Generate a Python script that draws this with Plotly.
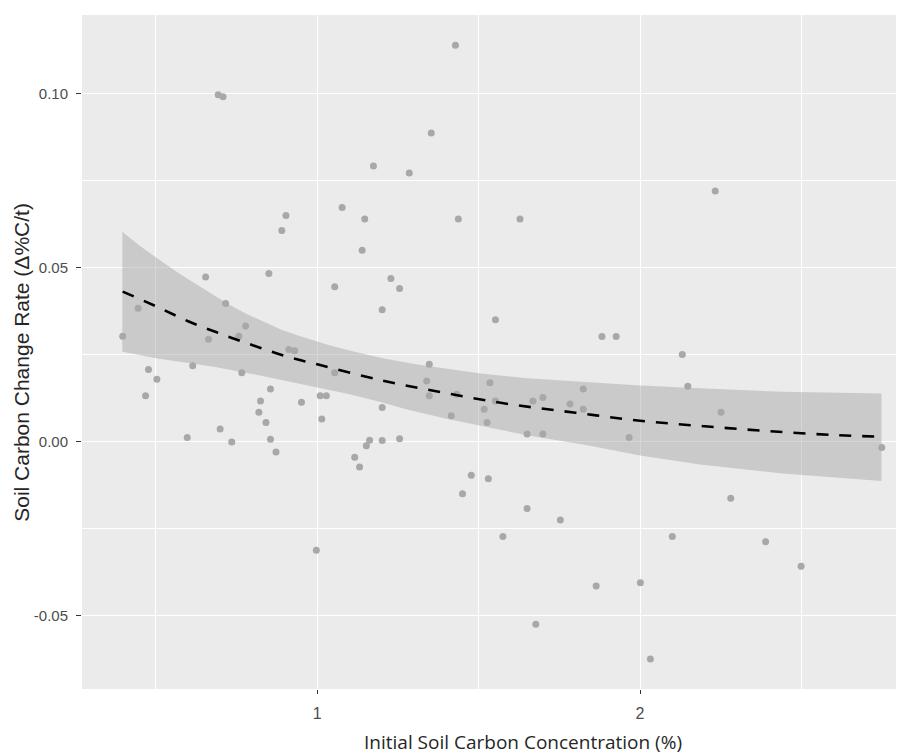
import plotly.graph_objects as go

# Observed data points (initial soil C %, change rate)
x_obs = [0.397, 0.445, 0.477, 0.468, 0.503, 0.597, 0.614, 0.654, 0.663, 0.693,
         0.708, 0.699, 0.716, 0.735, 0.757, 0.766, 0.778, 0.819, 0.824, 0.841,
         0.850, 0.855, 0.855, 0.872, 0.890, 0.903, 0.912, 0.930, 0.951, 0.997,
         1.009, 1.028, 1.014, 1.054, 1.054, 1.077, 1.116, 1.131, 1.139, 1.147,
         1.152, 1.162, 1.174, 1.201, 1.201, 1.201, 1.228, 1.255, 1.255, 1.285,
         1.339, 1.347, 1.347, 1.353, 1.415, 1.428, 1.432, 1.437, 1.450, 1.477,
         1.517, 1.526, 1.530, 1.535, 1.552, 1.552, 1.575, 1.628, 1.650, 1.650,
         1.668, 1.677, 1.699, 1.699, 1.753, 1.783, 1.824, 1.824, 1.864, 1.882,
         1.926, 1.966, 2.001, 2.032, 2.100, 2.131, 2.148, 2.233, 2.251, 2.281,
         2.389, 2.499, 2.749]
y_obs = [0.0303, 0.0383, 0.0207, 0.0132, 0.0179, 0.0012, 0.0218, 0.0473, 0.0294, 0.0997,
         0.0991, 0.0036, 0.0397, -0.0001, 0.0303, 0.0198, 0.0332, 0.0084, 0.0117, 0.0055,
         0.0483, 0.0151, 0.0007, -0.0030, 0.0607, 0.0650, 0.0265, 0.0261, 0.0113, -0.0312,
         0.0132, 0.0132, 0.0065, 0.0445, 0.0198, 0.0673, -0.0045, -0.0073, 0.0550, 0.0640,
         -0.0012, 0.0004, 0.0792, 0.0379, 0.0098, 0.0003, 0.0469, 0.0440, 0.0008, 0.0772,
         0.0174, 0.0222, 0.0132, 0.0887, 0.0074, 0.1139, 0.0136, 0.0640, -0.0150, -0.0097,
         0.0093, 0.0055, -0.0107, 0.0169, 0.0350, 0.0117, -0.0273, 0.0640, 0.0022, -0.0192,
         0.0117, -0.0525, 0.0127, 0.0022, -0.0225, 0.0108, 0.0151, 0.0093, -0.0415, 0.0302,
         0.0302, 0.0012, -0.0406, -0.0625, -0.0273, 0.0250, 0.0159, 0.0720, 0.0084, -0.0163,
         -0.0288, -0.0358, -0.0017]

# Fitted curve
x_fit = [0.397, 0.5, 0.6, 0.7, 0.8, 0.9, 1.0, 1.2, 1.4, 1.6, 1.8, 2.0, 2.2, 2.4, 2.6, 2.749]
y_fit = [0.0431, 0.0389, 0.0346, 0.0310, 0.0277, 0.0246, 0.0222, 0.0176, 0.0139, 0.0107,
         0.0083, 0.0060, 0.0044, 0.0030, 0.0019, 0.0014]

# Confidence band edges
x_upper = [0.396, 0.45, 0.505, 0.577, 0.63, 0.680, 0.73, 0.783, 0.835, 0.887, 0.94, 0.989,
           1.04, 1.093, 1.196, 1.3, 1.4, 1.505, 1.65, 1.876, 2.000, 2.186, 2.442, 2.748]
y_upper = [0.0603, 0.0563, 0.0526, 0.0480, 0.0449, 0.0420, 0.0392, 0.0366, 0.0343, 0.0322,
           0.0305, 0.0290, 0.0276, 0.0263, 0.0241, 0.0223, 0.0209, 0.0196, 0.0182, 0.0168,
           0.0161, 0.0153, 0.0143, 0.0138]
x_lower = [0.396, 0.505, 0.680, 0.845, 0.989, 1.1, 1.196, 1.278, 1.4, 1.505, 1.65, 1.845,
           2.000, 2.186, 2.442, 2.748]
y_lower = [0.0258, 0.0239, 0.0215, 0.0186, 0.0158, 0.0136, 0.0114, 0.0092, 0.0066, 0.0045,
           0.0018, -0.0012, -0.0040, -0.0066, -0.0092, -0.0113]

x_tick_vals = [1, 2]
x_tick_text = ["1", "2"]
x_minor_vals = [0.5, 1.5, 2.5]
y_tick_vals = [-0.05, 0.0, 0.05, 0.10]
y_tick_text = ["-0.05", "0.00", "0.05", "0.10"]
y_minor_vals = [-0.075, -0.025, 0.025, 0.075]

x_title = "Initial Soil Carbon Concentration (%)"
y_title = "Soil Carbon Change Rate (Δ%C/t)"

fig = go.Figure()

# band polygon: upper forward, lower reversed
fig.add_trace(go.Scatter(
    x=x_upper + x_lower[::-1],
    y=y_upper + y_lower[::-1],
    fill="toself", fillcolor="rgba(153,153,153,0.4)",
    line=dict(width=0), mode="lines",
    hoverinfo="skip", showlegend=False))

fig.add_trace(go.Scatter(
    x=x_obs, y=y_obs, mode="markers",
    marker=dict(color="#a8a8a8", size=7, line=dict(width=0)),
    showlegend=False))

fig.add_trace(go.Scatter(
    x=x_fit, y=y_fit, mode="lines", line_shape="spline",
    line=dict(color="black", width=2.6, dash="12px,11px"),
    showlegend=False))

fig.update_layout(
    width=906, height=756,
    margin=dict(l=82, r=10, t=15, b=67),
    paper_bgcolor="white", plot_bgcolor="#EBEBEB",
    font=dict(family="Liberation Sans, Arial, sans-serif", color="#4D4D4D", size=14),
    annotations=[
        dict(text=x_title, xref="paper", yref="paper", x=0.542, y=-0.078,
             xanchor="center", yanchor="middle", showarrow=False,
             font=dict(family="Open Sans, Noto Sans, sans-serif", size=19, color="#262626")),
        dict(text=y_title, xref="paper", yref="paper", x=-0.0737, y=0.484,
             xanchor="center", yanchor="middle", showarrow=False, textangle=-90,
             font=dict(family="Liberation Sans, Arial, sans-serif", size=21, color="#262626")),
    ],
)

fig.update_xaxes(
    range=[0.271, 2.793],
    tickmode="array", tickvals=x_tick_vals, ticktext=x_tick_text,
    showgrid=True, gridcolor="white", gridwidth=1.2,
    ticks="outside", ticklen=4, tickcolor="#333333", tickwidth=1,
    ticklabelstandoff=6,
    minor=dict(tickmode="array", tickvals=x_minor_vals, showgrid=True,
               gridcolor="white", gridwidth=0.6, ticks=""),
    zeroline=False, showline=False,
    tickfont=dict(size=16, color="#4D4D4D"),
)

fig.update_yaxes(
    range=[-0.0711, 0.1226],
    tickmode="array", tickvals=y_tick_vals, ticktext=y_tick_text,
    showgrid=True, gridcolor="white", gridwidth=1.2,
    ticks="outside", ticklen=5, tickcolor="#333333", tickwidth=1,
    ticklabelstandoff=5,
    minor=dict(tickmode="array", tickvals=y_minor_vals, showgrid=True,
               gridcolor="white", gridwidth=0.6, ticks=""),
    zeroline=False, showline=False,
    tickfont=dict(size=15, color="#4D4D4D"),
)

fig.write_html("out.html")
